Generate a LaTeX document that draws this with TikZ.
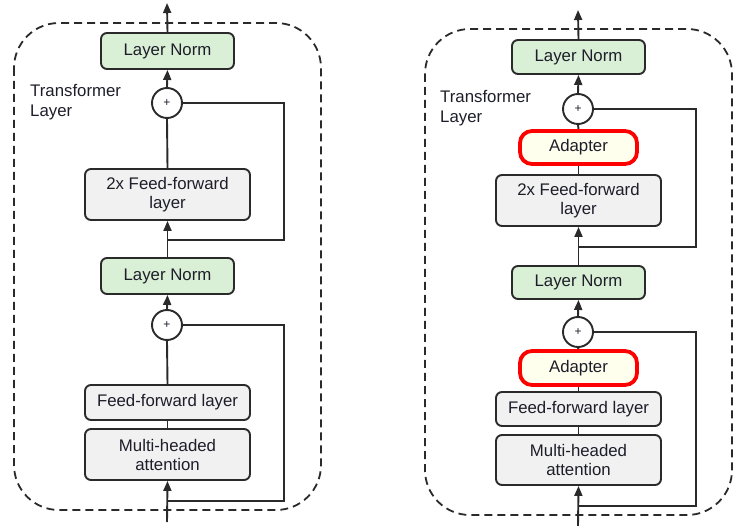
\documentclass[tikz,border=0pt]{standalone}
\usepackage{fontspec}
\setmainfont{Liberation Sans}
\usetikzlibrary{arrows.meta}
\definecolor{lngreen}{HTML}{D9EFD6}
\definecolor{boxgray}{HTML}{F1F1F1}
\definecolor{adfill}{HTML}{FFFFEE}
\definecolor{edge}{HTML}{2A2A2A}
\definecolor{txt}{HTML}{1E1E2A}
\tikzset{
  blk/.style={draw=edge, line width=1.9pt, rounded corners=6pt, inner sep=0pt, align=center,
    text=txt, font=\fontsize{16.8}{19}\selectfont},
  lnbox/.style={blk, fill=lngreen, minimum width=133pt},
  graybox/.style={blk, fill=boxgray, minimum width=165pt},
  adbox/.style={blk, draw=red, line width=3.8pt, fill=adfill, rounded corners=12pt, minimum width=117pt},
  plusnode/.style={draw=edge, line width=1.9pt, circle, fill=white, minimum size=30pt, inner sep=0pt,
    font=\fontsize{12}{13}\selectfont, text=txt},
  conn/.style={draw=edge, line width=1.9pt},
  arr/.style={conn, -{Triangle[length=10pt,width=8pt]}},
  frame/.style={draw=edge, line width=1.8pt, dash pattern=on 8pt off 5pt, rounded corners=45pt},
  lbl/.style={align=left, anchor=north west, inner sep=0pt, text=txt, font=\fontsize{16.8}{20}\selectfont}
}
\begin{document}
\begin{tikzpicture}[x=1pt, y=-1pt]
\useasboundingbox (0,0) rectangle (752,526);
% ---------- left ----------
\draw[frame] (14,23) rectangle (321,510);
\node[lbl] (tla) at (30,84) {Transformer\\Layer};
\node[lnbox, minimum height=36pt] (ln1a) at (167.5,51) {Layer Norm};
\node[plusnode] (p1a) at (167,103) {+};
\node[graybox, minimum height=51pt] (ff2a) at (167.5,194.5) {2x Feed-forward\\layer};
\node[lnbox, minimum height=36pt] (ln2a) at (167.5,276) {Layer Norm};
\node[plusnode] (p2a) at (167,325) {+};
\node[graybox, minimum height=35pt] (ffa) at (167.5,402.5) {Feed-forward layer};
\node[graybox, minimum height=51pt] (mhaa) at (167.5,454.5) {Multi-headed\\attention};
\coordinate (topa) at (167,3);
\coordinate (bota) at (167,522);
\coordinate (j1a) at (167,240);
\coordinate (j2a) at (167,501);
\draw[arr] (ln1a.north) -- (topa);
\draw[arr] (p1a.north) -- (ln1a.south);
\draw[conn] (ff2a.north) -- (p1a.south);
\draw[arr] (ln2a.north) -- (ff2a.south);
\draw[conn] (p1a.east) -- (284,103) |- (j1a);
\draw[arr] (p2a.north) -- (ln2a.south);
\draw[conn] (ffa.north) -- (p2a.south);
\draw[conn] (mhaa.north) -- (ffa.south);
\draw[arr] (bota) -- (mhaa.south);
\draw[conn] (p2a.east) -- (284,325) |- (j2a);
% ---------- right ----------
\draw[frame] (425,29) rectangle (732,515);
\node[lbl] (tlb) at (440,90) {Transformer\\Layer};
\node[lnbox, minimum height=34pt] (ln1b) at (578.5,57) {Layer Norm};
\node[plusnode] (p1b) at (578,109) {+};
\node[adbox, minimum height=33pt] (ad1b) at (578.5,147.5) {Adapter};
\node[graybox, minimum height=51pt] (ff2b) at (578.5,200.5) {2x Feed-forward\\layer};
\node[lnbox, minimum height=33pt] (ln2b) at (578.5,282.5) {Layer Norm};
\node[plusnode] (p2b) at (578,332) {+};
\node[adbox, minimum height=34pt] (ad2b) at (578.5,368) {Adapter};
\node[graybox, minimum height=34pt] (ffb) at (578.5,409) {Feed-forward layer};
\node[graybox, minimum height=50pt] (mhab) at (578.5,460) {Multi-headed\\attention};
\coordinate (topb) at (578,10);
\coordinate (botb) at (578,526);
\coordinate (j1b) at (578,247);
\coordinate (j2b) at (578,506);
\draw[arr] (ln1b.north) -- (topb);
\draw[arr] (p1b.north) -- (ln1b.south);
\draw[conn] (ad1b.north) -- (p1b.south);
\draw[conn] (ff2b.north) -- (ad1b.south);
\draw[arr] (ln2b.north) -- (ff2b.south);
\draw[conn] (p1b.east) -- (696,109) |- (j1b);
\draw[arr] (p2b.north) -- (ln2b.south);
\draw[conn] (ad2b.north) -- (p2b.south);
\draw[conn] (ffb.north) -- (ad2b.south);
\draw[conn] (mhab.north) -- (ffb.south);
\draw[arr] (botb) -- (mhab.south);
\draw[conn] (p2b.east) -- (696,332) |- (j2b);
\end{tikzpicture}
\end{document}
